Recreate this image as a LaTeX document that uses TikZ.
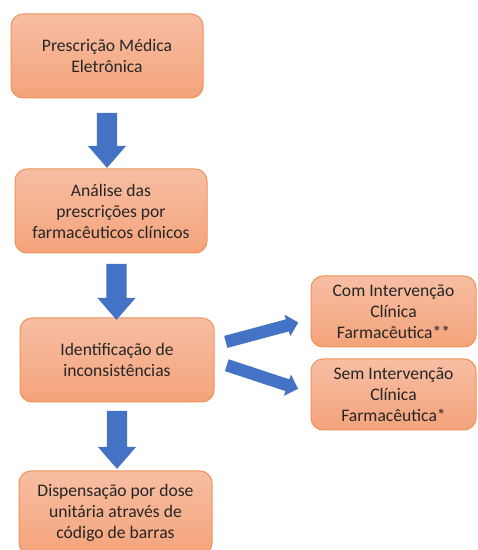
\documentclass[tikz,border=0pt]{standalone}
\usepackage{fontspec}
\setmainfont{Carlito}
\usetikzlibrary{shapes.arrows}
\definecolor{boxtop}{RGB}{247,190,163}
\definecolor{boxbot}{RGB}{244,163,122}
\definecolor{boxline}{RGB}{241,146,86}
\definecolor{arrowblue}{RGB}{68,114,196}
\definecolor{txt}{RGB}{38,38,38}
\tikzset{
  stepbox/.style={draw=boxline, line width=1pt, rounded corners=12pt,
    top color=boxtop, bottom color=boxbot, align=center, text=txt,
    font=\fontsize{17.6}{21}\selectfont, inner sep=0pt},
  bigarrow/.style={single arrow, fill=arrowblue, draw=none, inner sep=10pt,
    single arrow head extend=9pt, single arrow tip angle=82, anchor=center},
  smallarrow/.style={single arrow, fill=arrowblue, draw=none, inner sep=6pt,
    single arrow head extend=5pt, single arrow tip angle=90, anchor=center}
}
\begin{document}
\begin{tikzpicture}[x=1pt,y=1pt]
\useasboundingbox (0,0) rectangle (478,550);
\clip (0,0) rectangle (478,550);
\node[stepbox, minimum width=192pt, minimum height=84pt] (b1) at (107,494) {Prescrição Médica\\Eletrônica};
\node[stepbox, minimum width=192pt, minimum height=84pt] (b2) at (111,339) {Análise das\\prescrições por\\farmacêuticos clínicos};
\node[stepbox, minimum width=194pt, minimum height=84pt] (b3) at (117,190) {Identificação de\\inconsistências};
\node[stepbox, minimum width=165pt, minimum height=71pt] (b4) at (393.5,238.5) {Com Intervenção\\Clínica\\Farmacêutica**};
\node[stepbox, minimum width=165pt, minimum height=71pt] (b5) at (393.5,155.5) {Sem Intervenção\\Clínica\\Farmacêutica*};
\node[stepbox, minimum width=193pt, minimum height=84pt] (b6) at (115.5,37) {Dispensação por dose\\unitária através de\\código de barras};
% block arrows
\node[bigarrow, minimum height=55pt, rotate=-90] (a1) at (107,415.5) {};
\node[bigarrow, minimum height=56pt, rotate=-90] (a2) at (116.5,264) {};
\node[bigarrow, minimum height=58pt, rotate=-90] (a3) at (117,116) {};
\node[smallarrow, minimum height=75pt, rotate=15] (a4) at (259,217) {};
\node[smallarrow, minimum height=75pt, rotate=-18.3] (a5) at (259.5,174) {};
\end{tikzpicture}
\end{document}
